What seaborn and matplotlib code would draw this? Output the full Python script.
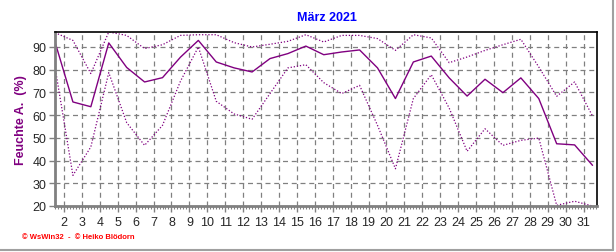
import matplotlib
matplotlib.use("Agg")
import matplotlib.pyplot as plt
from matplotlib.ticker import MultipleLocator
import seaborn as sns
import pandas as pd
import numpy as np

days = list(range(1, 32))
mean_vals = [92.2, 65.8, 63.7, 91.8, 81.0, 74.6, 76.5, 85.5, 92.9, 83.4,
             80.8, 79.0, 84.9, 87.1, 90.4, 86.6, 87.8, 88.7, 80.8, 67.3,
             83.4, 86.0, 76.4, 68.4, 75.8, 69.9, 76.4, 67.3, 47.4, 46.9, 37.9]
max_vals = [96.3, 92.9, 78.3, 96.6, 95.1, 89.3, 91.0, 95.1, 95.4, 95.4,
            91.9, 90.0, 91.2, 92.5, 95.4, 92.2, 95.1, 95.1, 93.7, 88.5,
            95.4, 94.0, 83.1, 85.6, 88.5, 91.0, 93.4, 81.2, 68.3, 74.6, 59.6]
min_vals = [81.2, 33.5, 46.0, 78.7, 56.7, 46.7, 55.5, 74.9, 90.0, 66.1,
            60.5, 58.2, 69.5, 80.8, 82.2, 74.3, 69.5, 73.1, 55.5, 36.4,
            67.3, 77.8, 63.1, 44.1, 54.0, 46.7, 48.9, 49.9, 20.3, 22.1, 20.0]
tick_days = list(range(2, 32))
y_ticks = [20, 30, 40, 50, 60, 70, 80, 90]

sns.set_style("white")
plt.rcParams['font.family'] = ['Liberation Sans', 'DejaVu Sans']

df = pd.DataFrame({"pos": [d + 0.5 for d in days], "mean": mean_vals,
                   "max": max_vals, "min": min_vals})

fig = plt.figure(figsize=(6.16, 2.53), dpi=100)
ax = fig.add_axes([55/616, 46/253, 542/616, 174/253])
purple = "#800080"

sns.lineplot(data=df, x="pos", y="mean", ax=ax, color=purple, lw=1.0)
sns.lineplot(data=df, x="pos", y="max", ax=ax, color=purple, lw=0.9, linestyle=(0, (1, 1.5)))
sns.lineplot(data=df, x="pos", y="min", ax=ax, color=purple, lw=0.9, linestyle=(0, (1, 1.5)))

ax.set_xlim(1.5, 31.75)
ax.set_ylim(20, 96.6)
ax.set_xticks(tick_days)
ax.set_xticklabels([str(d) for d in tick_days])
ax.xaxis.set_minor_locator(MultipleLocator(1/6))
ax.set_yticks(y_ticks)
ax.grid(True, color="#808080", linestyle=(0, (4, 3)), lw=0.9)
ax.set_xlabel("")
ax.set_ylabel("Feuchte A.  (%)", color=purple, fontsize=9, fontweight="bold", labelpad=4)

ax.tick_params(axis="x", which="major", direction="out", length=4, width=1, color="#808080",
               labelsize=9, pad=3, bottom=True)
ax.tick_params(axis="x", which="minor", direction="out", length=2, width=0.8, color="#808080", bottom=True)
ax.tick_params(axis="y", which="major", direction="out", length=4, width=1, color="#808080",
               labelsize=9, pad=2, left=True)

for s in ["top", "right"]:
    ax.spines[s].set_color("black")
    ax.spines[s].set_linewidth(1.2)
for s in ["bottom", "left"]:
    ax.spines[s].set_color("#808080")
    ax.spines[s].set_linewidth(2)

fig.text(327/616, 1 - 18/253, "März 2021", color="#0000ff", fontsize=9, fontweight="bold",
         ha="center", va="center")
fig.text(22/616, 1 - 238/253, "© WsWin32  -  © Heiko Blödorn", color="#ff0000", fontsize=5.5,
         fontweight="bold", ha="left", va="center")

fig.add_artist(plt.Line2D([0, 613/616], [2/253, 2/253], transform=fig.transFigure, color="#a0a0a0", lw=1.5))
fig.add_artist(plt.Line2D([613/616, 613/616], [2/253, 1], transform=fig.transFigure, color="#a0a0a0", lw=1.5))

fig.savefig("out.png", dpi=100)
